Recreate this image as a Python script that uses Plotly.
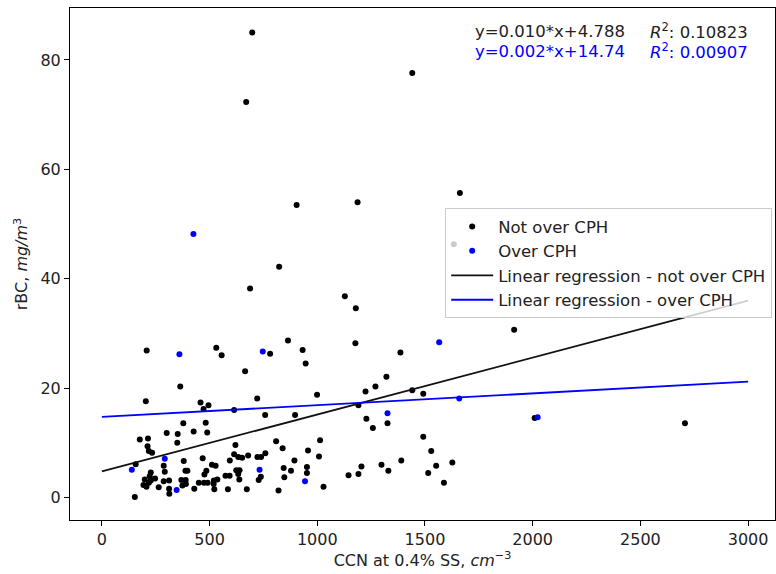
import plotly.graph_objects as go

# Not over CPH (black)
not_x = [698, 670, 1441, 1662, 904, 1187, 1634, 823, 688, 1128, 1179, 1914, 864, 1177, 208, 531,
         932, 556, 781, 1386, 946, 665, 1321, 364, 1270, 1224, 1441, 1492, 999, 204, 458, 495,
         721, 1191, 472, 614, 758, 897, 1228, 2009, 2707, 1326, 1258, 378, 482, 301, 352, 426,
         489, 350, 176, 214, 212, 218, 233, 809, 839, 620, 1013, 1492, 1529, 957, 1008, 614,
         633, 651, 679, 722, 739, 759, 894, 380, 468, 511, 528, 594, 157, 287, 292, 388,
         397, 485, 476, 624, 639, 633, 844, 878, 227, 222, 199, 193, 207, 218, 227, 247,
         264, 287, 312, 312, 313, 369, 389, 390, 374, 429, 450, 474, 491, 520, 536, 519,
         522, 585, 574, 593, 638, 673, 738, 728, 820, 847, 153, 952, 952, 1029, 1145, 1191,
         1205, 1298, 1330, 1390, 1515, 1552, 1588, 1627]
not_y = [85.0, 72.3, 77.6, 55.7, 53.5, 54.0, 46.3, 42.2, 38.2, 36.8, 34.6, 30.7, 28.7, 28.2, 26.9, 27.4,
         27.0, 26.0, 26.3, 26.5, 24.5, 23.1, 22.1, 20.3, 20.3, 19.4, 19.6, 19.0, 18.8, 17.6, 17.4, 16.9,
         18.1, 16.9, 16.2, 16.0, 15.1, 15.1, 14.4, 14.55, 13.6, 13.6, 12.7, 13.6, 13.7, 11.8, 11.6, 12.1,
         11.9, 10.0, 10.6, 10.8, 9.4, 8.5, 8.2, 10.3, 9.0, 9.6, 10.5, 11.1, 8.5, 8.6, 7.5, 7.9,
         7.4, 7.3, 7.7, 7.4, 7.4, 8.1, 6.8, 6.7, 7.2, 6.0, 5.8, 6.8, 6.1, 5.8, 4.7, 4.9,
         4.9, 4.9, 4.2, 5.0, 5.0, 4.3, 5.4, 4.9, 4.6, 3.9, 3.3, 2.3, 2.0, 2.7, 3.1, 3.5,
         1.9, 3.0, 3.1, 1.6, 0.7, 3.2, 3.2, 2.5, 2.2, 1.6, 2.7, 2.7, 2.7, 3.1, 3.3, 2.5,
         1.5, 1.5, 4.0, 4.0, 3.3, 1.5, 3.8, 3.2, 1.3, 3.7, 0.1, 5.6, 4.5, 2.0, 4.1, 4.3,
         5.7, 6.0, 4.9, 6.8, 4.5, 5.8, 2.7, 6.4]

# Over CPH (blue)
over_x = [139, 292, 347, 360, 425, 732, 747, 943, 1326, 1566, 1659, 2023]
over_y = [5.1, 7.1, 1.4, 26.2, 48.2, 5.1, 26.7, 3.0, 15.4, 28.4, 18.1, 14.7]

# Regression lines
line_x = [0, 3000]
slope_not, icpt_not = 0.0104, 4.788
slope_over, icpt_over = 0.00215, 14.74

eq_not = "y=0.010*x+4.788"
r2_not = "<i>R</i><sup>2</sup>: 0.10823"
eq_over = "y=0.002*x+14.74"
r2_over = "<i>R</i><sup>2</sup>: 0.00907"

FONT = "DejaVu Sans"
TXT = "#222222"

fig = go.Figure()
fig.add_trace(go.Scatter(x=not_x, y=not_y, mode="markers", name="Not over CPH",
                         marker=dict(color="black", size=6)))
fig.add_trace(go.Scatter(x=over_x, y=over_y, mode="markers", name="Over CPH",
                         marker=dict(color="blue", size=6)))
fig.add_trace(go.Scatter(x=line_x, y=[icpt_not + slope_not * v for v in line_x], mode="lines",
                         name="Linear regression - not over CPH",
                         line=dict(color="#111111", width=1.8)))
fig.add_trace(go.Scatter(x=line_x, y=[icpt_over + slope_over * v for v in line_x], mode="lines",
                         name="Linear regression - over CPH",
                         line=dict(color="blue", width=1.8)))

axis_common = dict(showline=True, linecolor="black", linewidth=1, mirror=True,
                   ticks="outside", ticklen=5, tickcolor="black", showgrid=False,
                   zeroline=False, tickfont=dict(family=FONT, size=16, color=TXT))

fig.update_layout(
    width=776, height=574,
    margin=dict(l=70, r=1, t=8, b=54),
    paper_bgcolor="white", plot_bgcolor="white",
    font=dict(family=FONT, color=TXT),
    xaxis=dict(range=[-148, 3125], tickvals=[0, 500, 1000, 1500, 2000, 2500, 3000],
               title=dict(text="CCN at 0.4% SS, <i>cm</i><sup>\u22123</sup>",
                          font=dict(family=FONT, size=16), standoff=6),
               **axis_common),
    yaxis=dict(range=[-4.1, 89.5], tickvals=[0, 20, 40, 60, 80],
               title=dict(text="rBC, <i>mg/m</i><sup>3</sup>",
                          font=dict(family=FONT, size=16), standoff=8),
               **axis_common),
    legend=dict(x=0.996, xanchor="right", y=0.609, yanchor="top",
                bgcolor="rgba(255,255,255,0.8)", bordercolor="#cccccc", borderwidth=1,
                itemwidth=42,
                font=dict(family=FONT, size=16.5, color=TXT), tracegroupgap=0),
    showlegend=True,
)

for txt, xp, yp, col in [(eq_not, 0.572, 0.955, TXT), (r2_not, 0.820, 0.955, TXT),
                         (eq_over, 0.572, 0.916, "blue"), (r2_over, 0.820, 0.916, "blue")]:
    fig.add_annotation(text=txt, xref="paper", yref="paper", x=xp, y=yp,
                       xanchor="left", yanchor="middle", showarrow=False,
                       font=dict(family=FONT, size=16.5, color=col))

fig.write_html("out.html", config={"displayModeBar": False},
               post_script="document.body.style.margin='0';document.body.style.overflow='hidden';")
